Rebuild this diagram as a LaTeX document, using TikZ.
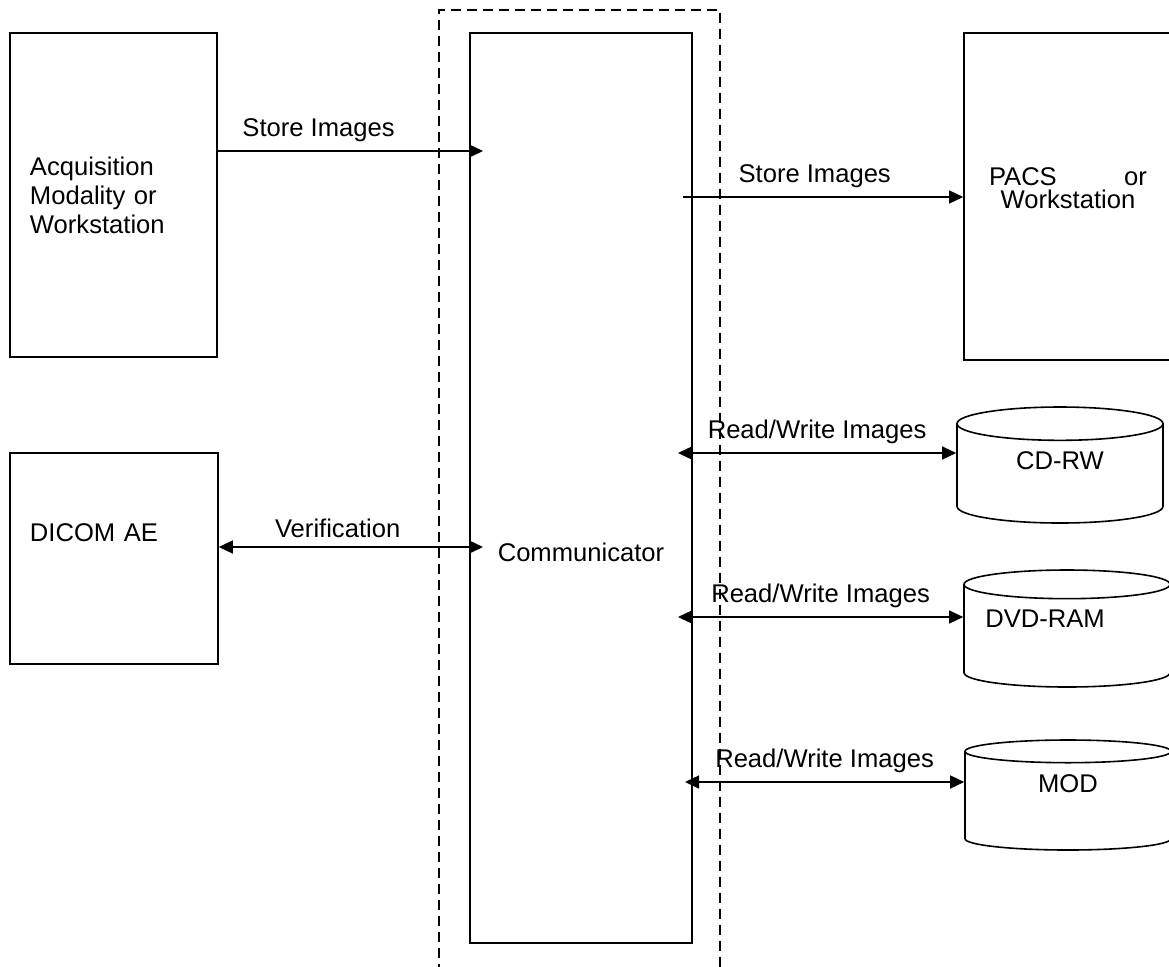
\documentclass[tikz,border=0pt]{standalone}
\usepackage{fontspec}
\setmainfont{Liberation Sans}
\usetikzlibrary{arrows.meta,shapes.geometric}

\begin{document}
\begin{tikzpicture}[x=0.5pt,y=-0.5pt,>={Triangle[length=7pt,width=6.5pt]},line width=0.7pt,font=\fontsize{12.8}{14.5}\selectfont,
  main node/.style={rectangle,draw,line width=0.8pt,inner sep=0pt},
  disk node/.style={cylinder,draw,line width=0.8pt,shape border rotate=90,aspect=0.38,inner sep=0pt,anchor=shape center,text height=9.3pt}]
  \useasboundingbox (0,0) rectangle (1169,966);
  \draw[dash pattern=on 5pt off 3pt,line width=0.8pt] (439,990) |- (720,10) -- (720,990);

  \node[main node,minimum width=103.5pt,minimum height=162pt,text width=83.5pt,align=left] (acq) at (113.5,195) {Acquisition\\Modality or\\Workstation};
  \node[main node,minimum width=104pt,minimum height=105.5pt,text width=84pt,align=left,text height=9.3pt,text depth=26.7pt] (dicom) at (114,558.5) {DICOM AE};
  \node[main node,minimum width=111pt,minimum height=455pt,text height=73pt,text depth=0pt] (comm) at (581,488) {Communicator};
  \node[main node,minimum width=104pt,minimum height=163.5pt,text width=79pt,align=center,text height=9.3pt,text depth=20.8pt,font=\fontsize{12.8}{11.5}\selectfont] (pacs) at (1068,196.5) {\makebox[79pt]{PACS\hfill or}\\Workstation};

  \node[disk node,minimum width=103pt,minimum height=58pt,text depth=14pt] (cd) at (1060,465) {CD-RW};
  \node[disk node,minimum width=103pt,minimum height=58.5pt,text depth=18pt] (dvd) at (1067,628.5) {\hspace*{-22pt}DVD-RAM};
  \node[disk node,minimum width=103pt,minimum height=55pt,text depth=18pt] (mod) at (1068,795) {MOD};

  \coordinate (s1) at (483,151);
  \coordinate (s2) at (683,197);
  \coordinate (v) at (483,547);
  \coordinate (rw1) at (678,453);
  \coordinate (rw2) at (678,617);
  \coordinate (rw3) at (685,782);

\path[every node/.style={above=4.3pt,inner sep=0pt}]
  (acq.east |- s1) edge[->] node[pos=0.38] {Store Images} (s1)
  (s2) edge[->] node[pos=0.47] {Store Images} (s2 -| pacs.west)
  (dicom.east |- v) edge[<->] node[pos=0.45] {Verification} (v)
  (rw1) edge[<->] node {Read/Write Images} (rw1 -| cd.west)
  (rw2) edge[<->] node {Read/Write Images} (rw2 -| dvd.west)
  (rw3) edge[<->] node {Read/Write Images} (rw3 -| mod.west)
;
\end{tikzpicture}
\end{document}
